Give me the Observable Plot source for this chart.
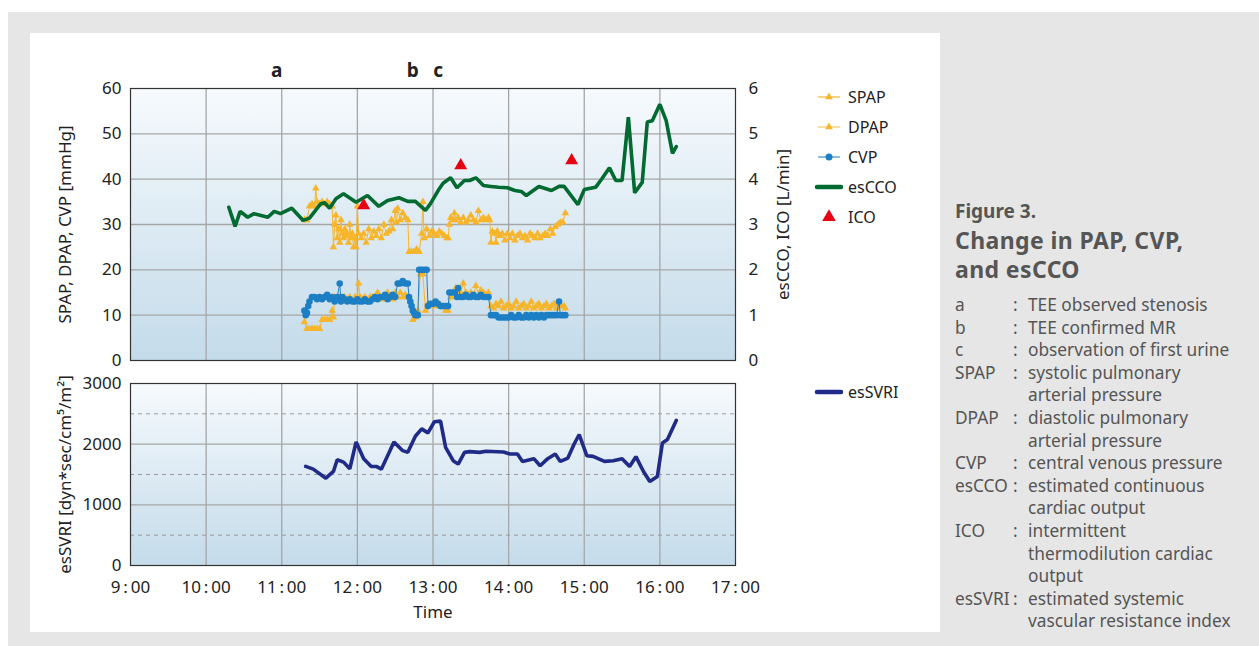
<!DOCTYPE html>
<html><head><meta charset="utf-8">
<script src="https://cdn.jsdelivr.net/npm/d3@7"></script>
<script src="https://cdn.jsdelivr.net/npm/@observablehq/plot@0.6"></script>
<style>
body{margin:0;width:1259px;height:646px;position:relative;background:#fff;font-family:"Noto Sans",sans-serif;overflow:hidden}
#bg{position:absolute;left:8px;top:12px;width:1251px;height:634px;background:#e6e6e6}
#card{position:absolute;left:30px;top:33px;width:910px;height:599px;background:#fff}
#top,#bottom,#legend{position:absolute}
#top{left:30px;top:50px}
#bottom{left:30px;top:370px}
#legend{left:800px;top:80px}
#notes{position:absolute;left:955px;top:198px;color:#555;white-space:nowrap}
.fig{font-weight:700;font-size:19px;line-height:26px}
.ttl{font-weight:700;font-size:23px;line-height:29px;margin-top:2px;margin-bottom:10px;letter-spacing:0.4px}
.defs{display:grid;grid-template-columns:58px 15px auto;font-size:17.3px;line-height:22.6px}
</style></head>
<body>
<svg width="0" height="0" style="position:absolute"><defs>
<linearGradient id="bgGrad" x1="0" y1="0" x2="0" y2="1">
<stop offset="0" stop-color="#f6fafd"/><stop offset="1" stop-color="#c4dbea"/>
</linearGradient></defs></svg>
<div id="bg"></div><div id="card"></div>
<div id="top"></div><div id="bottom"></div><div id="legend"></div>
<div id="notes">
<div class="fig">Figure 3.</div>
<div class="ttl"><div>Change in PAP, CVP,</div><div>and esCCO</div></div>
<div class="defs" id="defs"></div>
</div>
<script>
// ---- data ----
const hourTicks = [9,10,11,12,13,14,15,16,17];
const leftTicks = [0,10,20,30,40,50,60];
const svriTicks = [0,1000,2000,3000];
const events = [["10:56","a"],["12:44","b"],["13:04","c"]];

const spap = [["11:18",31],["11:20",31],["11:22",34],["11:24",34.5],["11:26",34],["11:27",38],["11:28",35],["11:30",34.5],["11:32",35],["11:34",34.5],["11:36",35],["11:38",34.5],["11:40",34],["11:41",25],["11:42",30],["11:43",32],["11:44",27],["11:45",29],["11:46",26],["11:47",31],["11:48",28],["11:49",27],["11:50",29],["11:51",27.5],["11:52",28],["11:53",26],["11:54",30],["11:55",27],["11:56",28],["11:57",25],["11:58",27],["11:59",25],["12:00",34],["12:01",28],["12:03",27],["12:05",28],["12:07",26],["12:09",29],["12:11",27],["12:13",28.5],["12:15",27.5],["12:17",29],["12:19",27],["12:21",30],["12:23",28],["12:25",28.5],["12:27",31],["12:28",29],["12:30",33],["12:31",30.5],["12:32",33.5],["12:34",31],["12:36",32.5],["12:38",31.5],["12:40",31],["12:41",24],["12:43",24],["12:45",24],["12:47",24.5],["12:49",24],["12:51",28],["12:52",35],["12:53",27],["12:55",29],["12:57",27.5],["12:59",28.5],["13:01",28],["13:03",27.5],["13:05",28.5],["13:07",28],["13:09",27.5],["13:11",27],["13:12",27],["13:13",30],["13:14",31.5],["13:16",31],["13:17",32.5],["13:18",31],["13:20",31.5],["13:22",30.5],["13:24",31.5],["13:26",30.5],["13:28",31],["13:30",32],["13:32",31],["13:34",30.5],["13:36",33],["13:38",31],["13:40",31.5],["13:42",31],["13:44",31.5],["13:45",31],["13:46",26],["13:47",28.5],["13:49",28],["13:50",26],["13:51",28.5],["13:53",27.5],["13:55",28],["13:57",26.5],["13:59",28],["14:01",27],["14:03",28],["14:05",26.5],["14:07",27.5],["14:09",28],["14:11",27],["14:13",27.5],["14:15",26.5],["14:17",28],["14:19",27.5],["14:21",27],["14:23",28],["14:25",27],["14:27",27.5],["14:29",28],["14:31",27.5],["14:33",29],["14:35",28],["14:37",29.5],["14:39",30],["14:41",30.5],["14:43",30.5],["14:45",32.5]];

const dpap = [["11:18",8.5],["11:20",7],["11:22",7],["11:24",7],["11:26",7],["11:28",7],["11:30",7],["11:32",9],["11:34",9],["11:36",9],["11:38",9],["11:40",11],["11:41",9.5],["11:42",14],["11:44",13.5],["11:46",14],["11:48",13],["11:50",14],["11:52",13.5],["11:54",14],["11:56",13],["11:58",14],["12:00",14],["12:01",17],["12:02",14],["12:04",13.5],["12:06",14],["12:08",13],["12:10",14],["12:12",14],["12:14",13.5],["12:16",15],["12:18",14],["12:20",13.5],["12:22",14],["12:24",15],["12:26",14],["12:28",13.5],["12:30",15],["12:32",14],["12:34",15],["12:36",14],["12:38",14.5],["12:40",14],["12:42",13],["12:44",9],["12:46",9.5],["12:48",11],["12:50",19],["12:52",19],["12:54",11],["12:56",12.5],["12:58",12],["13:00",12.5],["13:02",12],["13:04",12.5],["13:06",12],["13:08",12],["13:10",11],["13:12",11],["13:14",14],["13:16",15],["13:18",16],["13:20",14.5],["13:22",15],["13:24",17],["13:26",15],["13:28",14.5],["13:30",15],["13:32",14],["13:34",16.5],["13:36",14.5],["13:38",15.5],["13:40",15],["13:42",14.5],["13:44",15],["13:46",12],["13:48",11.5],["13:50",12.5],["13:52",12],["13:54",13],["13:56",11.5],["13:58",12],["14:00",12.5],["14:02",11.5],["14:04",12],["14:06",13],["14:08",11.5],["14:10",12],["14:12",12.5],["14:14",11.5],["14:16",12],["14:18",13],["14:20",11.5],["14:22",12],["14:24",12.5],["14:26",11.5],["14:28",12],["14:30",12.5],["14:32",11.5],["14:34",12],["14:36",12.5],["14:38",11.5],["14:40",12.5],["14:42",12],["14:44",12],["14:45",11.5]];

const cvp = [["11:18",11],["11:19",10],["11:20",10.5],["11:21",12],["11:22",13],["11:24",14],["11:26",14],["11:28",13.5],["11:30",14],["11:32",13.5],["11:34",14],["11:36",14.5],["11:38",13.5],["11:40",14],["11:42",13],["11:44",14],["11:46",17],["11:47",13],["11:48",14],["11:50",13.5],["11:52",13],["11:54",13.5],["11:56",13],["11:58",13],["12:00",13.5],["12:02",13],["12:04",13],["12:06",13.5],["12:08",13],["12:10",13],["12:12",13.5],["12:14",14],["12:16",13.5],["12:18",14],["12:20",14],["12:22",14.5],["12:24",13.5],["12:26",14],["12:28",14.5],["12:30",14],["12:32",17],["12:34",17],["12:36",17.5],["12:38",17],["12:40",17],["12:41",14],["12:42",13],["12:43",12],["12:44",11],["12:45",10.5],["12:46",10],["12:48",10],["12:49",20],["12:51",20],["12:53",20],["12:55",20],["12:56",12],["12:58",12.5],["13:00",12.5],["13:02",13],["13:04",12.5],["13:06",12],["13:08",12],["13:10",12],["13:12",12],["13:13",15],["13:15",15],["13:17",15],["13:19",14],["13:20",16],["13:22",14],["13:24",14],["13:26",14.5],["13:28",14],["13:30",14],["13:32",14.5],["13:34",14],["13:36",14],["13:38",14.5],["13:40",14],["13:42",14],["13:44",14],["13:46",10],["13:48",10],["13:50",10],["13:52",9.5],["13:54",9.5],["13:56",9.5],["13:58",9.5],["14:00",9.5],["14:02",10],["14:04",9.5],["14:06",9.5],["14:08",10],["14:10",9.5],["14:12",9.5],["14:14",10],["14:16",9.5],["14:18",10],["14:20",9.5],["14:22",10],["14:24",9.5],["14:26",10],["14:28",9.5],["14:30",10],["14:32",10],["14:34",10],["14:36",10],["14:38",10],["14:40",13],["14:41",10],["14:43",10],["14:45",10]];

const esCCO = [["10:18",3.38],["10:23",2.96],["10:27",3.29],["10:33",3.16],["10:38",3.24],["10:49",3.16],["10:54",3.29],["10:59",3.24],["11:08",3.36],["11:17",3.09],["11:22",3.14],["11:31",3.46],["11:34",3.48],["11:38",3.36],["11:43",3.57],["11:49",3.68],["11:59",3.49],["12:08",3.64],["12:17",3.40],["12:24",3.53],["12:33",3.59],["12:40",3.51],["12:46",3.51],["12:54",3.31],["12:58",3.46],["13:05",3.79],["13:08",3.91],["13:14",4.03],["13:19",3.81],["13:25",3.97],["13:29",3.97],["13:34",4.03],["13:40",3.86],["13:46",3.84],["13:52",3.82],["13:59",3.81],["14:05",3.75],["14:10",3.73],["14:14",3.64],["14:24",3.84],["14:34",3.75],["14:40",3.84],["14:44",3.84],["14:55",3.44],["15:00",3.77],["15:09",3.82],["15:14",4.01],["15:20",4.25],["15:25",3.97],["15:30",3.97],["15:35",5.37],["15:40",3.70],["15:46",3.93],["15:50",5.26],["15:54",5.29],["16:00",5.65],["16:05",5.29],["16:10",4.57],["16:13",4.72]];

const ico = [["12:05",3.42],["13:22",4.30],["14:50",4.41]];

const esSVRI = [["11:19",1633],["11:25",1588],["11:35",1439],["11:41",1550],["11:44",1744],["11:49",1704],["11:54",1595],["11:59",2037],["12:05",1761],["12:11",1633],["12:15",1633],["12:19",1588],["12:25",1854],["12:29",2037],["12:36",1893],["12:40",1865],["12:46",2131],["12:51",2252],["12:56",2186],["13:01",2369],["13:06",2380],["13:10",1948],["13:16",1727],["13:20",1671],["13:25",1865],["13:29",1877],["13:37",1865],["13:42",1882],["13:56",1871],["14:01",1837],["14:07",1837],["14:11",1716],["14:20",1761],["14:25",1644],["14:31",1761],["14:37",1837],["14:41",1716],["14:47",1771],["14:52",2003],["14:56",2159],["15:02",1810],["15:07",1799],["15:16",1716],["15:23",1727],["15:30",1761],["15:36",1633],["15:41",1794],["15:47",1550],["15:52",1384],["15:58",1467],["16:02",2020],["16:06",2076],["16:13",2392]];

const legendItems = [["SPAP","tri"],["DPAP","tri"],["CVP","dot"],["esCCO","thick"],["ICO","ico"]];
const definitions = [
 ["a","TEE observed stenosis"],
 ["b","TEE confirmed MR"],
 ["c","observation of first urine"],
 ["SPAP","systolic pulmonary<br>arterial pressure"],
 ["DPAP","diastolic pulmonary<br>arterial pressure"],
 ["CVP","central venous pressure"],
 ["esCCO","estimated continuous<br>cardiac output"],
 ["ICO","intermittent<br>thermodilution cardiac<br>output"],
 ["esSVRI","estimated systemic<br>vascular resistance index"]
];

// ---- helpers ----
const H = s => { const [h, m] = s.split(":").map(Number); return h + m / 60; };
const X = d => H(d[0]);
const V = d => d[1];
const V10 = d => d[1] * 10;
const yellow = "#f7b52b", blue = "#1c7fc5", green = "#006a30", red = "#e60012", navy = "#1f2b86";
const gridC = "#a6a6a6";
const fmtHour = h => `${h}\u2009:\u200900`;
const style = {fontFamily: "'Noto Sans', sans-serif", fontSize: "17px", color: "#222", background: "transparent", overflow: "visible"};

const topPlot = Plot.plot({
  width: 780, height: 315, marginLeft: 100, marginRight: 75, marginTop: 38, marginBottom: 5,
  style,
  x: {domain: [9, 17], axis: null},
  y: {domain: [0, 60]},
  marks: [
    Plot.frame({fill: "url(#bgGrad)"}),
    Plot.gridX(hourTicks.slice(1, -1), {stroke: gridC, strokeOpacity: 1, strokeWidth: 1.3}),
    Plot.gridY(leftTicks.slice(1, -1), {stroke: gridC, strokeOpacity: 1, strokeWidth: 1.3}),
    Plot.axisY(leftTicks, {anchor: "left", tickSize: 0, tickPadding: 9, label: null}),
    Plot.axisY(leftTicks, {anchor: "right", tickSize: 0, tickPadding: 13, tickFormat: d => d / 10, label: null}),
    Plot.text(["SPAP, DPAP, CVP [mmHg]"], {frameAnchor: "left", dx: -65, rotate: -90, textAnchor: "middle", lineAnchor: "middle", text: d => d, fontSize: 17}),
    Plot.text(["esCCO, ICO [L/min]"], {frameAnchor: "right", dx: 48, rotate: -90, textAnchor: "middle", lineAnchor: "middle", text: d => d, fontSize: 17}),
    Plot.line(dpap, {x: X, y: V, stroke: yellow, strokeWidth: 1}),
    Plot.dot(dpap, {x: X, y: V, symbol: "triangle", fill: yellow, r: 2.8}),
    Plot.line(spap, {x: X, y: V, stroke: yellow, strokeWidth: 1}),
    Plot.dot(spap, {x: X, y: V, symbol: "triangle", fill: yellow, r: 2.8}),
    Plot.line(cvp, {x: X, y: V, stroke: blue, strokeWidth: 1}),
    Plot.dot(cvp, {x: X, y: V, fill: blue, r: 3.3}),
    Plot.line(esCCO, {x: X, y: V10, stroke: green, strokeWidth: 3.6, strokeLinejoin: "miter"}),
    Plot.dot(ico, {x: X, y: V10, symbol: "triangle", fill: red, r: 4.8}),
    Plot.frame({stroke: "#333", strokeWidth: 1.2}),
    Plot.text(events, {x: X, text: d => d[1], frameAnchor: "top", lineAnchor: "middle", dy: -18, fontWeight: "bold", fontSize: 19})
  ]
});
document.getElementById("top").append(topPlot);

const bottomPlot = Plot.plot({
  width: 780, height: 255, marginLeft: 100, marginRight: 75, marginTop: 13, marginBottom: 60,
  style,
  x: {domain: [9, 17]},
  y: {domain: [0, 3000]},
  marks: [
    Plot.frame({fill: "url(#bgGrad)"}),
    Plot.gridX(hourTicks.slice(1, -1), {stroke: gridC, strokeOpacity: 1, strokeWidth: 1.3}),
    Plot.gridY([1000, 2000], {stroke: gridC, strokeOpacity: 1, strokeWidth: 1.3}),
    Plot.gridY([500, 1500, 2500], {stroke: "#9a9a9a", strokeOpacity: 1, strokeWidth: 1, strokeDasharray: "4,4"}),
    Plot.axisY(svriTicks, {anchor: "left", tickSize: 0, tickPadding: 9, tickFormat: d => String(d), label: null}),
    Plot.axisX(hourTicks, {anchor: "bottom", tickSize: 0, tickPadding: 15, tickFormat: fmtHour, label: null}),
    Plot.text(["esSVRI [dyn*sec/cm\u2075/m\u00b2]"], {frameAnchor: "left", dx: -65, rotate: -90, textAnchor: "middle", lineAnchor: "middle", text: d => d, fontSize: 17}),
    Plot.text(["Time"], {frameAnchor: "bottom", lineAnchor: "middle", dy: 47, text: d => d, fontSize: 17}),
    Plot.line(esSVRI, {x: X, y: V, stroke: navy, strokeWidth: 3.6, strokeLinejoin: "miter"}),
    Plot.frame({stroke: "#333", strokeWidth: 1.2})
  ]
});
document.getElementById("bottom").append(bottomPlot);

// ---- legend ----
const lg = d3.select("#legend").append("svg").attr("width", 140).attr("height", 330)
  .style("font-family", "'Noto Sans', sans-serif").style("font-size", "16px");
const items = legendItems.map((d, i) => ({name: d[0], kind: d[1], y: 17 + i * 30}))
  .concat([{name: "esSVRI", kind: "thickNavy", y: 312}]);
const tri = d3.symbol(d3.symbolTriangle);
items.forEach(it => {
  const g = lg.append("g").attr("transform", `translate(0,${it.y})`);
  if (it.kind === "tri") {
    g.append("line").attr("x1", 18).attr("x2", 40).attr("stroke", it.name === "DPAP" ? "#f9c85e" : yellow).attr("stroke-width", 1.2);
    g.append("path").attr("d", tri.size(26)()).attr("transform", "translate(29,0)").attr("fill", yellow);
  } else if (it.kind === "dot") {
    g.append("line").attr("x1", 18).attr("x2", 40).attr("stroke", "#3c8fd0").attr("stroke-width", 1.2);
    g.append("circle").attr("cx", 29).attr("r", 3.5).attr("fill", blue);
  } else if (it.kind === "thick") {
    g.append("line").attr("x1", 17).attr("x2", 41).attr("stroke", green).attr("stroke-width", 4.5).attr("stroke-linecap", "round");
  } else if (it.kind === "thickNavy") {
    g.append("line").attr("x1", 17).attr("x2", 41).attr("stroke", navy).attr("stroke-width", 4.5).attr("stroke-linecap", "round");
  } else if (it.kind === "ico") {
    g.append("path").attr("d", tri.size(80)()).attr("transform", "translate(29,0)").attr("fill", red);
  }
  g.append("text").attr("x", 48).attr("dy", "0.35em").attr("fill", "#222").text(it.name);
});

// ---- notes ----
const defs = document.getElementById("defs");
definitions.forEach(([t, d]) => {
  const a = document.createElement("div"); a.textContent = t;
  const b = document.createElement("div"); b.textContent = ":";
  const c = document.createElement("div"); c.innerHTML = d;
  defs.append(a, b, c);
});
</script>
</body></html>
